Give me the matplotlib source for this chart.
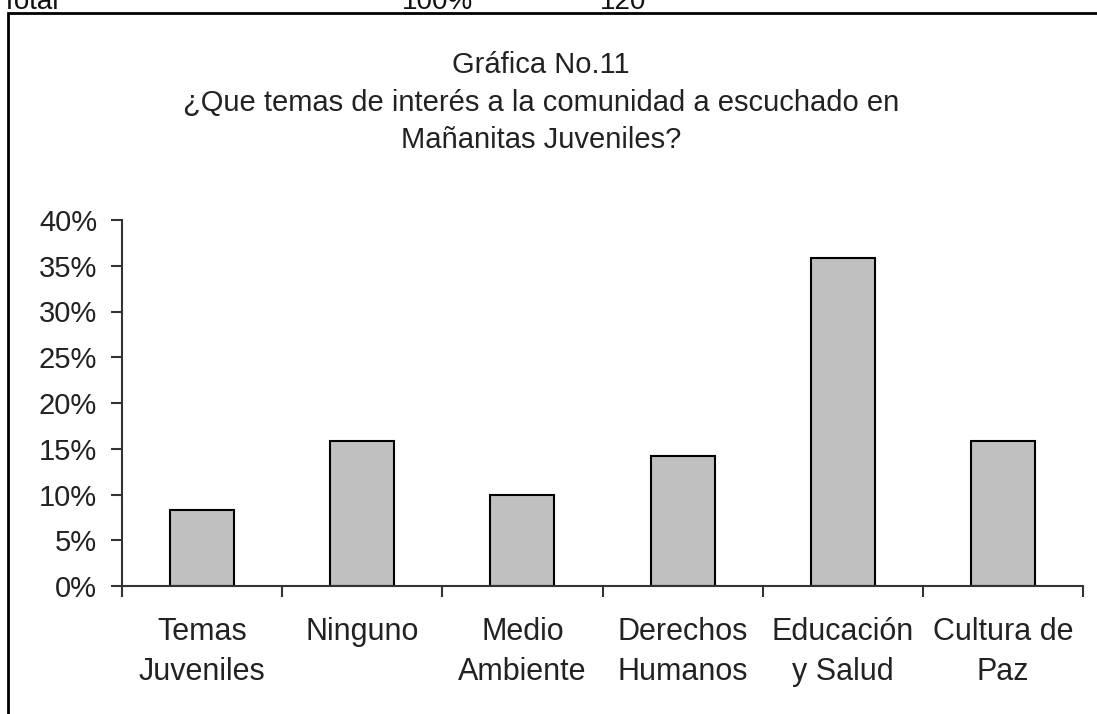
import matplotlib.pyplot as plt
from matplotlib.patches import Rectangle
from matplotlib.ticker import PercentFormatter

plt.rcParams['font.family'] = ['Liberation Sans', 'DejaVu Sans']

# Datos de la gráfica
categorias = ['Temas\nJuveniles', 'Ninguno', 'Medio\nAmbiente', 'Derechos\nHumanos',
              'Educación\ny Salud', 'Cultura de\nPaz']
porcentajes = [8.33, 15.83, 10.0, 14.17, 35.83, 15.83]
titulo = 'Gráfica No.11\n¿Que temas de interés a la comunidad a escuchado en\nMañanitas Juveniles?'

fig = plt.figure(figsize=(10.97, 7.14), dpi=100)

# marco del área del gráfico (se corta a la derecha y abajo)
fig.patches.append(Rectangle((8 / 1097, -0.05), 1.2, 1 - 13 / 714 + 0.05,
                             transform=fig.transFigure, fill=False,
                             edgecolor='black', linewidth=2))

# restos de la tabla de arriba, cortados
for x, txt in [(0.0, 'Total'), (402 / 1097, '100%'), (600 / 1097, '120')]:
    fig.text(x, 1 - 2 / 714, txt, fontsize=20, color='#111111', va='center', ha='left')

ax = fig.add_axes([122 / 1097, 1 - 586 / 714, (1083 - 122) / 1097, (586 - 220) / 714])

x = range(len(categorias))
ax.bar(x, porcentajes, width=0.4, color='#c0c0c0', edgecolor='black', linewidth=1.5)

ax.set_xlim(-0.5, len(categorias) - 0.5)
ax.set_ylim(0, 40)
ax.set_yticks(range(0, 41, 5))
ax.yaxis.set_major_formatter(PercentFormatter(decimals=0))

ax.set_xticks([i - 0.5 for i in range(len(categorias) + 1)])
ax.set_xticklabels([])
ax.set_xticks(list(x), minor=True)
ax.set_xticklabels(categorias, minor=True, linespacing=1.44)
ax.tick_params(axis='x', which='minor', length=0, pad=22, labelsize=22, labelcolor='#222222')
ax.tick_params(axis='x', which='major', direction='out', length=8, width=1.5, color='#333333')
ax.tick_params(axis='y', direction='out', length=8, width=1.5, color='#333333',
               labelsize=21, labelcolor='#222222', pad=10)

for s in ['top', 'right']:
    ax.spines[s].set_visible(False)
for s in ['left', 'bottom']:
    ax.spines[s].set_linewidth(1.5)
    ax.spines[s].set_color('#333333')

fig.text(541 / 1097, 1 - 102.5 / 714, titulo, ha='center', va='center',
         fontsize=21, color='#222222', linespacing=1.43)

fig.savefig('out.png', dpi=100)
